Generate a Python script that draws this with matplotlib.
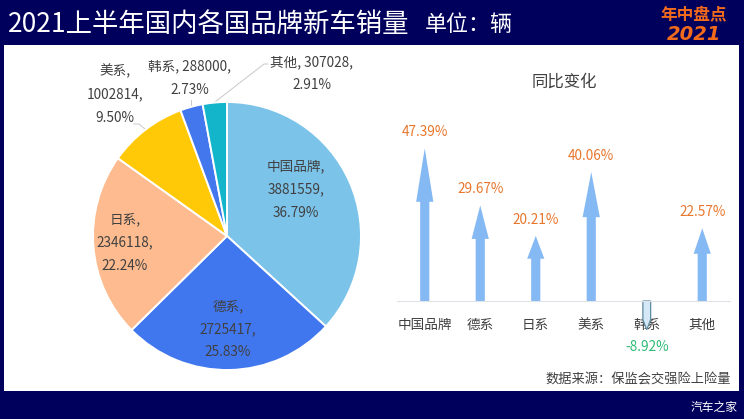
import matplotlib
matplotlib.use('Agg')
import matplotlib.pyplot as plt
from matplotlib.patches import Rectangle
from matplotlib.lines import Line2D

plt.rcParams['font.family'] = ['Noto Sans CJK SC', 'DejaVu Sans']

W, H = 744, 419
names = ['中国品牌', '德系', '日系', '美系', '韩系', '其他']
sales = [3881559, 2725417, 2346118, 1002814, 288000, 307028]
shares = [36.79, 25.83, 22.24, 9.50, 2.73, 2.91]
pie_colors = ['#7cc3ea', '#4077ef', '#fdbb8f', '#ffc907', '#4277ee', '#12b5c9']
yoy = [47.39, 29.67, 20.21, 40.06, -8.92, 22.57]

NAVY = '#00005c'
TXT = '#404040'
fig = plt.figure(figsize=(W / 100, H / 100), dpi=100, facecolor=NAVY)


def px_axes(x0, y0, x1, y1, **kw):
    return fig.add_axes([x0 / W, 1 - y1 / H, (x1 - x0) / W, (y1 - y0) / H], **kw)


def overlay(z):
    a = px_axes(0, 0, W, H)
    a.set_xlim(0, W)
    a.set_ylim(H, 0)
    a.axis('off')
    a.set_zorder(z)
    return a


bg = overlay(0)
bg.add_patch(Rectangle((4, 45), 735, 346, fc='white', ec='none', zorder=0))
ov = overlay(5)

ov.text(8, 24, '2021上半年国内各国品牌新车销量', color='white', fontsize=19, va='center', ha='left')
ov.text(425, 25, '单位：辆', color='white', fontsize=15.8, va='center', ha='left')
ov.text(564, 82, '同比变化', color=TXT, fontsize=11.8, va='center', ha='center')
ov.text(731, 380, '数据来源：保监会交强险上险量', color=TXT, fontsize=9.5, va='center', ha='right')
ov.text(738, 407, '汽车之家', color='white', fontsize=8.5, va='center', ha='right')
ov.text(694, 15, '年中盘点', color='#f26a1b', fontsize=12, fontweight='bold', style='italic', va='center', ha='center')
ov.text(694, 34, '2021', color='#f26a1b', fontsize=14, fontweight='bold', style='italic', va='center', ha='center',
        family='DejaVu Sans')

# pie
R = 134
cx, cy = 227, 236
pa = px_axes(cx - 1.25 * R, cy - 1.25 * R, cx + 1.25 * R, cy + 1.25 * R)
pa.set_zorder(2)
pa.pie(sales, colors=pie_colors, startangle=90, counterclock=False,
       wedgeprops={'edgecolor': 'white', 'linewidth': 1.4})
pa.set_xlim(-1.25, 1.25)
pa.set_ylim(-1.25, 1.25)
pa.patch.set_alpha(0)

label_lines = [
    [(296, 166, f'{names[0]},'), (296, 189, f'{sales[0]},'), (296, 213, f'{shares[0]:.2f}%')],
    [(228, 306, f'{names[1]},'), (228, 329, f'{sales[1]},'), (228, 352, f'{shares[1]:.2f}%')],
    [(125, 219, f'{names[2]},'), (125, 242, f'{sales[2]},'), (125, 266, f'{shares[2]:.2f}%')],
    [(115, 71, f'{names[3]},'), (115, 94, f'{sales[3]},'), (115, 118, f'{shares[3]:.2f}%')],
    [(190, 66, f'{names[4]}, {sales[4]},'), (190, 90, f'{shares[4]:.2f}%')],
    [(312, 62, f'{names[5]}, {sales[5]},'), (312, 85, f'{shares[5]:.2f}%')],
]
for group in label_lines:
    for x, y, s in group:
        ov.text(x, y, s, color=TXT, fontsize=9.8, ha='center', va='center', zorder=5)

bg.add_line(Line2D([145, 139, 134], [129, 124, 124], color='#c8c8c8', lw=0.7, zorder=1))
bg.add_line(Line2D([191, 191], [105, 100], color='#c8c8c8', lw=0.7, zorder=1))
bg.add_line(Line2D([215, 264, 268], [102, 64, 64], color='#c8c8c8', lw=0.7, zorder=1))

# arrows
SCALE = 3.22
top, bot = 110, 345
ba = px_axes(397, top, 730, bot)
ba.set_zorder(3)
ba.patch.set_alpha(0)
ba.set_xlim(-0.5, 5.5)
ba.set_ylim(-(bot - 301) / SCALE, (301 - top) / SCALE)
for i, v in enumerate(yoy):
    up = v >= 0
    ba.arrow(i, 0, 0, v, width=0.165 if up else 0.14, head_width=0.31 if up else 0.14,
             head_length=abs(v) * 0.35, length_includes_head=True,
             fc='#85b9f3' if up else '#d5e8f7', ec='none' if up else '#5d8aa0',
             lw=0 if up else 0.9, zorder=2)
    ba.annotate(f'{v:.2f}%', (i, v), xytext=(0, 11.5 if up else -12.5), textcoords='offset points',
                ha='center', va='center', fontsize=9.8, color='#e8762d' if up else '#2dbb73')
for s in ['top', 'left', 'right']:
    ba.spines[s].set_visible(False)
ba.spines['bottom'].set_position(('data', 0))
ba.spines['bottom'].set_color('#dfe3e8')
ba.spines['bottom'].set_linewidth(0.8)
ba.set_yticks([])
ba.set_xticks(range(len(names)))
ba.set_xticklabels(names, fontsize=9.8, color=TXT)
ba.tick_params(axis='x', length=0, pad=12)

fig.savefig('out.png', dpi=100, facecolor=NAVY)
